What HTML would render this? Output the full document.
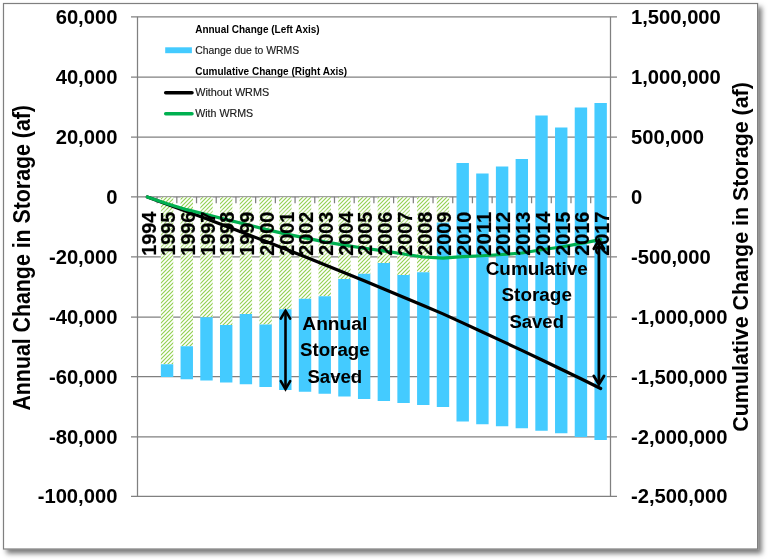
<!DOCTYPE html>
<html lang="en">
<head>
<meta charset="utf-8">
<title>Change in Storage</title>
<style>
html,body{margin:0;padding:0;background:#fff;}
body{width:768px;height:560px;overflow:hidden;position:relative;font-family:"Liberation Sans",sans-serif;}
svg{position:absolute;left:0;top:0;display:block;}
</style>
</head>
<body>
<svg width="768" height="560" viewBox="0 0 768 560">
<defs>
<pattern id="hatch" width="4" height="4" patternUnits="userSpaceOnUse"><rect width="4" height="4" fill="#fff"/><path d="M-1,5 L5,-1 M-1,1 L1,-1 M3,5 L5,3" stroke="#92D050" stroke-width="1.15" fill="none"/></pattern>
<filter id="sh" x="-5%" y="-5%" width="112%" height="112%"><feDropShadow dx="3.6" dy="4" stdDeviation="2.7" flood-color="#000" flood-opacity="0.52"/></filter>
</defs>
<rect x="3.5" y="3.5" width="754.1" height="545.5" fill="#fff" stroke="#7f7f7f" stroke-width="1.2" filter="url(#sh)"/>
<g stroke="#808080" stroke-width="1.25" fill="none">
<line x1="131.0" y1="16.84" x2="617.0" y2="16.84"/>
<line x1="131.0" y1="77.0" x2="617.0" y2="77.0"/>
<line x1="131.0" y1="137.2" x2="617.0" y2="137.2"/>
<line x1="131.0" y1="196.76" x2="617.0" y2="196.76"/>
<line x1="131.0" y1="256.9" x2="617.0" y2="256.9"/>
<line x1="131.0" y1="317.1" x2="617.0" y2="317.1"/>
<line x1="131.0" y1="376.6" x2="617.0" y2="376.6"/>
<line x1="131.0" y1="436.8" x2="617.0" y2="436.8"/>
<line x1="131.0" y1="496.44" x2="617.0" y2="496.44"/>
<line x1="137.5" y1="16.84" x2="137.5" y2="496.44"/>
<line x1="610.5" y1="16.84" x2="610.5" y2="496.44"/>
<line x1="157.11" y1="196.76" x2="157.11" y2="203.26"/>
<line x1="176.82" y1="196.76" x2="176.82" y2="203.26"/>
<line x1="196.53" y1="196.76" x2="196.53" y2="203.26"/>
<line x1="216.23" y1="196.76" x2="216.23" y2="203.26"/>
<line x1="235.94" y1="196.76" x2="235.94" y2="203.26"/>
<line x1="255.65" y1="196.76" x2="255.65" y2="203.26"/>
<line x1="275.36" y1="196.76" x2="275.36" y2="203.26"/>
<line x1="295.07" y1="196.76" x2="295.07" y2="203.26"/>
<line x1="314.77" y1="196.76" x2="314.77" y2="203.26"/>
<line x1="334.48" y1="196.76" x2="334.48" y2="203.26"/>
<line x1="354.19" y1="196.76" x2="354.19" y2="203.26"/>
<line x1="373.90" y1="196.76" x2="373.90" y2="203.26"/>
<line x1="393.61" y1="196.76" x2="393.61" y2="203.26"/>
<line x1="413.32" y1="196.76" x2="413.32" y2="203.26"/>
<line x1="433.02" y1="196.76" x2="433.02" y2="203.26"/>
<line x1="452.73" y1="196.76" x2="452.73" y2="203.26"/>
<line x1="472.44" y1="196.76" x2="472.44" y2="203.26"/>
<line x1="492.15" y1="196.76" x2="492.15" y2="203.26"/>
<line x1="511.86" y1="196.76" x2="511.86" y2="203.26"/>
<line x1="531.57" y1="196.76" x2="531.57" y2="203.26"/>
<line x1="551.27" y1="196.76" x2="551.27" y2="203.26"/>
<line x1="570.98" y1="196.76" x2="570.98" y2="203.26"/>
<line x1="590.69" y1="196.76" x2="590.69" y2="203.26"/>
</g>
<g>
<rect x="160.86" y="197.26" width="12.4" height="166.99" fill="url(#hatch)"/>
<rect x="160.86" y="364.25" width="12.4" height="12.75" fill="#44CBFF"/>
<rect x="180.57" y="197.26" width="12.4" height="148.99" fill="url(#hatch)"/>
<rect x="180.57" y="346.25" width="12.4" height="33.00" fill="#44CBFF"/>
<rect x="200.28" y="197.26" width="12.4" height="119.99" fill="url(#hatch)"/>
<rect x="200.28" y="317.25" width="12.4" height="63.25" fill="#44CBFF"/>
<rect x="219.99" y="197.26" width="12.4" height="127.74" fill="url(#hatch)"/>
<rect x="219.99" y="325.00" width="12.4" height="57.50" fill="#44CBFF"/>
<rect x="239.70" y="197.26" width="12.4" height="116.74" fill="url(#hatch)"/>
<rect x="239.70" y="314.00" width="12.4" height="70.25" fill="#44CBFF"/>
<rect x="259.40" y="197.26" width="12.4" height="127.24" fill="url(#hatch)"/>
<rect x="259.40" y="324.50" width="12.4" height="62.50" fill="#44CBFF"/>
<rect x="279.11" y="197.26" width="12.4" height="111.99" fill="url(#hatch)"/>
<rect x="279.11" y="309.25" width="12.4" height="80.75" fill="#44CBFF"/>
<rect x="298.82" y="197.26" width="12.4" height="101.49" fill="url(#hatch)"/>
<rect x="298.82" y="298.75" width="12.4" height="93.00" fill="#44CBFF"/>
<rect x="318.53" y="197.26" width="12.4" height="98.99" fill="url(#hatch)"/>
<rect x="318.53" y="296.25" width="12.4" height="97.50" fill="#44CBFF"/>
<rect x="338.24" y="197.26" width="12.4" height="81.74" fill="url(#hatch)"/>
<rect x="338.24" y="279.00" width="12.4" height="117.50" fill="#44CBFF"/>
<rect x="357.95" y="197.26" width="12.4" height="76.49" fill="url(#hatch)"/>
<rect x="357.95" y="273.75" width="12.4" height="125.25" fill="#44CBFF"/>
<rect x="377.65" y="197.26" width="12.4" height="65.74" fill="url(#hatch)"/>
<rect x="377.65" y="263.00" width="12.4" height="138.00" fill="#44CBFF"/>
<rect x="397.36" y="197.26" width="12.4" height="77.74" fill="url(#hatch)"/>
<rect x="397.36" y="275.00" width="12.4" height="128.00" fill="#44CBFF"/>
<rect x="417.07" y="197.26" width="12.4" height="74.99" fill="url(#hatch)"/>
<rect x="417.07" y="272.25" width="12.4" height="132.75" fill="#44CBFF"/>
<rect x="436.78" y="197.26" width="12.4" height="25.24" fill="url(#hatch)"/>
<rect x="436.78" y="222.50" width="12.4" height="184.50" fill="#44CBFF"/>
<rect x="456.49" y="163.00" width="12.4" height="258.50" fill="#44CBFF"/>
<rect x="476.20" y="173.50" width="12.4" height="250.75" fill="#44CBFF"/>
<rect x="495.90" y="166.50" width="12.4" height="259.75" fill="#44CBFF"/>
<rect x="515.61" y="159.00" width="12.4" height="269.25" fill="#44CBFF"/>
<rect x="535.32" y="115.50" width="12.4" height="315.25" fill="#44CBFF"/>
<rect x="555.03" y="127.50" width="12.4" height="305.75" fill="#44CBFF"/>
<rect x="574.74" y="107.50" width="12.4" height="329.50" fill="#44CBFF"/>
<rect x="594.45" y="103.00" width="12.4" height="337.00" fill="#44CBFF"/>
</g>
<g fill="#fff" fill-opacity="0.25">
<rect x="160.86" y="209.5" width="12.4" height="47.00"/>
<rect x="180.57" y="209.5" width="12.4" height="47.00"/>
<rect x="200.28" y="209.5" width="12.4" height="47.00"/>
<rect x="219.99" y="209.5" width="12.4" height="47.00"/>
<rect x="239.70" y="209.5" width="12.4" height="47.00"/>
<rect x="259.40" y="209.5" width="12.4" height="47.00"/>
<rect x="279.11" y="209.5" width="12.4" height="47.00"/>
<rect x="298.82" y="209.5" width="12.4" height="47.00"/>
<rect x="318.53" y="209.5" width="12.4" height="47.00"/>
<rect x="338.24" y="209.5" width="12.4" height="47.00"/>
<rect x="357.95" y="209.5" width="12.4" height="47.00"/>
<rect x="377.65" y="209.5" width="12.4" height="47.00"/>
<rect x="397.36" y="209.5" width="12.4" height="47.00"/>
<rect x="417.07" y="209.5" width="12.4" height="47.00"/>
<rect x="436.78" y="209.5" width="12.4" height="13.00"/>
</g>
<polyline points="147.35,197.00 167.06,204.20 186.77,211.49 206.48,218.83 226.19,226.25 245.90,233.74 265.60,241.34 285.31,249.06 305.02,256.85 324.73,264.72 344.44,272.70 364.15,280.78 383.85,288.94 403.56,297.18 423.27,305.50 442.98,313.90 462.69,322.88 482.40,331.97 502.10,341.14 521.81,350.39 541.52,359.74 561.23,369.19 580.94,378.79 600.65,388.51" fill="none" stroke="#000" stroke-width="3.2" stroke-linecap="round" stroke-linejoin="round"/>
<polyline points="147.35,197.00 167.06,203.69 186.77,209.66 206.48,214.47 226.19,219.59 245.90,224.27 265.60,229.37 285.31,233.86 305.02,237.93 324.73,241.90 344.44,245.18 364.15,248.25 383.85,250.89 403.56,254.01 423.27,257.02 442.98,258.04 462.69,256.68 482.40,255.74 502.10,254.52 521.81,253.00 541.52,249.74 561.23,246.96 580.94,243.38 600.65,239.62" fill="none" stroke="#00B050" stroke-width="3.2" stroke-linecap="round" stroke-linejoin="round"/>
<g font-family="'Liberation Sans', sans-serif" font-size="21" fill="#000" font-weight="700" stroke="#000" stroke-width="0.2" stroke-linejoin="round">
<text transform="translate(155.65,255.7) rotate(-90)" textLength="44.1" lengthAdjust="spacingAndGlyphs">1994</text>
<text transform="translate(175.36,255.7) rotate(-90)" textLength="44.1" lengthAdjust="spacingAndGlyphs">1995</text>
<text transform="translate(195.07,255.7) rotate(-90)" textLength="44.1" lengthAdjust="spacingAndGlyphs">1996</text>
<text transform="translate(214.78,255.7) rotate(-90)" textLength="44.1" lengthAdjust="spacingAndGlyphs">1997</text>
<text transform="translate(234.49,255.7) rotate(-90)" textLength="44.1" lengthAdjust="spacingAndGlyphs">1998</text>
<text transform="translate(254.20,255.7) rotate(-90)" textLength="44.1" lengthAdjust="spacingAndGlyphs">1999</text>
<text transform="translate(273.90,255.7) rotate(-90)" textLength="44.1" lengthAdjust="spacingAndGlyphs">2000</text>
<text transform="translate(293.61,255.7) rotate(-90)" textLength="44.1" lengthAdjust="spacingAndGlyphs">2001</text>
<text transform="translate(313.32,255.7) rotate(-90)" textLength="44.1" lengthAdjust="spacingAndGlyphs">2002</text>
<text transform="translate(333.03,255.7) rotate(-90)" textLength="44.1" lengthAdjust="spacingAndGlyphs">2003</text>
<text transform="translate(352.74,255.7) rotate(-90)" textLength="44.1" lengthAdjust="spacingAndGlyphs">2004</text>
<text transform="translate(372.45,255.7) rotate(-90)" textLength="44.1" lengthAdjust="spacingAndGlyphs">2005</text>
<text transform="translate(392.15,255.7) rotate(-90)" textLength="44.1" lengthAdjust="spacingAndGlyphs">2006</text>
<text transform="translate(411.86,255.7) rotate(-90)" textLength="44.1" lengthAdjust="spacingAndGlyphs">2007</text>
<text transform="translate(431.57,255.7) rotate(-90)" textLength="44.1" lengthAdjust="spacingAndGlyphs">2008</text>
<text transform="translate(451.28,255.7) rotate(-90)" textLength="44.1" lengthAdjust="spacingAndGlyphs">2009</text>
<text transform="translate(470.99,255.7) rotate(-90)" textLength="44.1" lengthAdjust="spacingAndGlyphs">2010</text>
<text transform="translate(490.70,255.7) rotate(-90)" textLength="44.1" lengthAdjust="spacingAndGlyphs">2011</text>
<text transform="translate(510.40,255.7) rotate(-90)" textLength="44.1" lengthAdjust="spacingAndGlyphs">2012</text>
<text transform="translate(530.11,255.7) rotate(-90)" textLength="44.1" lengthAdjust="spacingAndGlyphs">2013</text>
<text transform="translate(549.82,255.7) rotate(-90)" textLength="44.1" lengthAdjust="spacingAndGlyphs">2014</text>
<text transform="translate(569.53,255.7) rotate(-90)" textLength="44.1" lengthAdjust="spacingAndGlyphs">2015</text>
<text transform="translate(589.24,255.7) rotate(-90)" textLength="44.1" lengthAdjust="spacingAndGlyphs">2016</text>
<text transform="translate(608.95,255.7) rotate(-90)" textLength="44.1" lengthAdjust="spacingAndGlyphs">2017</text>
</g>
<g font-family="'Liberation Sans', sans-serif" font-size="20.2" font-weight="700" fill="#000" text-anchor="end">
<text transform="translate(117.4,23.740000000000002) scale(1.0,1)">60,000</text>
<text transform="translate(117.4,83.9) scale(1.0,1)">40,000</text>
<text transform="translate(117.4,144.1) scale(1.0,1)">20,000</text>
<text transform="translate(117.4,203.66) scale(1.0,1)">0</text>
<text transform="translate(117.4,263.79999999999995) scale(1.0,1)">-20,000</text>
<text transform="translate(117.4,324.0) scale(1.0,1)">-40,000</text>
<text transform="translate(117.4,383.5) scale(1.0,1)">-60,000</text>
<text transform="translate(117.4,443.7) scale(1.0,1)">-80,000</text>
<text transform="translate(117.4,503.34) scale(1.0,1)">-100,000</text>
</g>
<g font-family="'Liberation Sans', sans-serif" font-size="20.2" font-weight="700" fill="#000" text-anchor="start">
<text transform="translate(631.0,23.740000000000002) scale(1.0,1)">1,500,000</text>
<text transform="translate(631.0,83.9) scale(1.0,1)">1,000,000</text>
<text transform="translate(631.0,144.1) scale(1.0,1)">500,000</text>
<text transform="translate(631.0,203.66) scale(1.0,1)">0</text>
<text transform="translate(631.0,263.79999999999995) scale(1.0,1)">-500,000</text>
<text transform="translate(631.0,324.0) scale(1.0,1)">-1,000,000</text>
<text transform="translate(631.0,383.5) scale(1.0,1)">-1,500,000</text>
<text transform="translate(631.0,443.7) scale(1.0,1)">-2,000,000</text>
<text transform="translate(631.0,503.34) scale(1.0,1)">-2,500,000</text>
</g>
<g font-family="'Liberation Sans', sans-serif" font-size="24.4" font-weight="700" fill="#000" text-anchor="middle">
<text transform="translate(30,257.8) rotate(-90)" font-size="23.5" textLength="305.5" lengthAdjust="spacingAndGlyphs">Annual Change in Storage (af)</text>
<text transform="translate(748.3,256.9) rotate(-90)" font-size="22.7" textLength="349.5" lengthAdjust="spacingAndGlyphs">Cumulative Change in Storage (af)</text>
</g>
<g font-family="'Liberation Sans', sans-serif" font-size="10.3">
<text x="195.2" y="32.8" font-size="10.2" font-weight="700" fill="#000" textLength="124.5" lengthAdjust="spacingAndGlyphs">Annual Change (Left Axis)</text>
<rect x="165.2" y="47.3" width="26.7" height="5.9" fill="#44CBFF"/>
<text x="195.2" y="53.7" font-size="10.3" fill="#1a1a1a" stroke="#1a1a1a" stroke-width="0.15" textLength="104" lengthAdjust="spacingAndGlyphs">Change due to WRMS</text>
<text x="195.2" y="74.8" font-size="10.2" font-weight="700" fill="#000" textLength="152" lengthAdjust="spacingAndGlyphs">Cumulative Change (Right Axis)</text>
<line x1="165.7" y1="92.7" x2="192" y2="92.7" stroke="#000" stroke-width="3.5" stroke-linecap="round"/>
<text x="195.2" y="96.0" font-size="10.3" fill="#1a1a1a" stroke="#1a1a1a" stroke-width="0.15" textLength="74" lengthAdjust="spacingAndGlyphs">Without WRMS</text>
<line x1="165.7" y1="113.8" x2="192" y2="113.8" stroke="#00B050" stroke-width="3.5" stroke-linecap="round"/>
<text x="195.2" y="117.0" font-size="10.3" fill="#1a1a1a" stroke="#1a1a1a" stroke-width="0.15" textLength="58" lengthAdjust="spacingAndGlyphs">With WRMS</text>
</g>
<g fill="none" stroke="#000" stroke-width="2.6" stroke-linecap="round" stroke-linejoin="miter" stroke-miterlimit="10">
<line x1="285.5" y1="311.70000000000005" x2="285.5" y2="388.2" stroke-linecap="butt"/>
<polyline points="280.8,318.70000000000005 285.5,310.70000000000005 290.2,318.70000000000005"/>
<polyline points="280.8,381.2 285.5,389.2 290.2,381.2"/>
</g>
<g fill="none" stroke="#000" stroke-width="2.8" stroke-linecap="round" stroke-linejoin="miter" stroke-miterlimit="10">
<line x1="598.9" y1="241.29999999999998" x2="598.9" y2="383.3" stroke-linecap="butt"/>
<polyline points="593.8,248.7 598.9,240.29999999999998 604.0,248.7"/>
<polyline points="593.8,375.90000000000003 598.9,384.3 604.0,375.90000000000003"/>
</g>
<g font-family="'Liberation Sans', sans-serif" font-size="18.7" font-weight="700" fill="#000" text-anchor="middle">
<text x="334.8" y="329.5" textLength="65" lengthAdjust="spacingAndGlyphs">Annual</text>
<text x="334.8" y="356.0" textLength="69.6" lengthAdjust="spacingAndGlyphs">Storage</text>
<text x="334.8" y="383.0" textLength="54.8" lengthAdjust="spacingAndGlyphs">Saved</text>
<text x="536.7" y="274.8" textLength="102" lengthAdjust="spacingAndGlyphs">Cumulative</text>
<text x="536.7" y="301.2" textLength="70.4" lengthAdjust="spacingAndGlyphs">Storage</text>
<text x="536.7" y="328.2" textLength="54.6" lengthAdjust="spacingAndGlyphs">Saved</text>
</g>
</svg>
</body>
</html>
